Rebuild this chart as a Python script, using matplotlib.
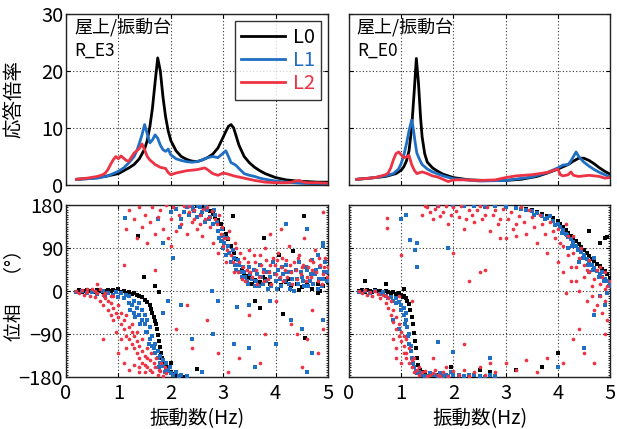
import matplotlib
matplotlib.use("Agg")
import matplotlib.pyplot as plt
from matplotlib.ticker import MultipleLocator
import numpy as np

FAM = ['Noto Sans CJK JP', 'DejaVu Sans']
plt.rcParams['font.family'] = FAM

C0, C1, C2 = '#000000', '#1f6fc4', '#ee3344'
labels = ['L0', 'L1', 'L2']
xticks = [0, 1, 2, 3, 4, 5]
amp_ticks = [0, 10, 20, 30]
ph_ticks = [-180, -90, 0, 90, 180]

# ---- amplification ratio, R_E3 ----
e3_f0 = [0.2,0.4,0.6,0.8,1.0,1.1,1.2,1.3,1.4,1.5,1.55,1.6,1.65,1.7,1.75,1.8,1.85,1.9,1.95,2.0,2.1,2.2,2.3,2.4,2.5,2.6,2.7,2.8,2.9,3.0,3.05,3.1,3.15,3.2,3.25,3.3,3.4,3.5,3.6,3.7,3.8,4.0,4.2,4.4,4.6,4.8,5.0]
e3_a0 = [1.0,1.1,1.3,1.6,2.0,2.5,3.0,3.6,4.6,6.3,7.8,10.2,13.5,18.0,22.3,20.0,15.5,12.0,9.5,7.8,6.0,5.0,4.5,4.2,4.1,4.4,4.8,5.4,6.5,8.4,9.4,10.3,10.6,10.0,8.5,7.0,5.0,3.9,3.1,2.5,2.0,1.3,0.9,0.7,0.6,0.5,0.5]
e3_f1 = [0.2,0.4,0.6,0.8,1.0,1.1,1.2,1.3,1.35,1.4,1.45,1.5,1.55,1.6,1.65,1.7,1.75,1.8,1.85,1.9,1.95,2.0,2.1,2.2,2.3,2.4,2.5,2.6,2.7,2.8,2.9,2.95,3.0,3.05,3.1,3.15,3.2,3.25,3.3,3.4,3.5,3.6,3.7,3.8,4.0,4.2,4.5,4.8,5.0]
e3_a1 = [1.0,1.1,1.2,1.6,2.4,3.0,3.9,5.0,6.0,7.3,8.8,10.6,9.0,7.4,7.9,8.8,8.2,7.0,6.2,5.9,6.3,5.3,4.6,4.3,4.1,4.0,4.1,4.4,4.8,5.0,4.8,5.2,5.6,6.0,5.0,3.9,3.7,3.4,2.9,2.0,1.7,1.5,1.2,1.0,0.7,0.5,0.3,0.2,0.2]
e3_f2 = [0.2,0.4,0.6,0.7,0.75,0.8,0.85,0.9,0.95,1.0,1.05,1.1,1.15,1.2,1.25,1.3,1.35,1.4,1.45,1.5,1.55,1.6,1.7,1.8,1.9,1.95,2.0,2.1,2.2,2.3,2.4,2.5,2.6,2.65,2.7,2.8,2.9,3.0,3.1,3.2,3.3,3.4,3.6,3.8,4.0,4.2,4.3,4.4,4.45,4.5,4.6,4.8,5.0]
e3_a2 = [1.0,1.2,1.5,1.8,2.1,2.7,3.6,4.4,5.0,4.6,5.1,4.7,4.3,4.2,4.9,5.6,6.0,6.4,7.2,6.2,5.0,4.4,3.6,3.1,2.9,2.2,1.8,2.1,2.3,2.5,2.6,2.7,2.9,3.0,2.7,2.0,1.7,2.1,1.9,1.6,1.4,1.2,0.8,0.5,0.4,0.4,0.5,0.7,0.8,0.6,0.4,0.4,0.3]

# ---- amplification ratio, R_E0 ----
e0_f0 = [0.15,0.4,0.7,0.9,1.0,1.05,1.1,1.15,1.2,1.25,1.29,1.33,1.37,1.4,1.45,1.5,1.6,1.7,1.8,2.0,2.3,2.6,3.0,3.3,3.6,3.8,4.0,4.2,4.3,4.4,4.5,4.6,4.7,4.8,4.9,5.0]
e0_a0 = [1.0,1.2,1.5,2.0,2.6,3.2,4.2,6.0,10.0,16.5,22.2,18.0,12.0,8.5,5.5,4.0,3.0,2.4,1.9,1.3,0.9,0.8,0.8,1.0,1.5,2.1,2.8,3.6,4.2,4.7,4.7,4.3,3.7,3.0,2.4,1.9]
e0_f1 = [0.15,0.4,0.7,0.85,0.95,1.0,1.05,1.1,1.15,1.2,1.23,1.27,1.3,1.35,1.4,1.5,1.6,1.8,2.0,2.5,3.0,3.5,3.8,4.0,4.1,4.2,4.25,4.3,4.35,4.4,4.5,4.6,4.7,4.8,4.9,5.0]
e0_a1 = [1.0,1.2,1.6,2.0,2.8,3.8,5.2,7.2,9.5,11.4,10.0,7.3,5.6,4.5,3.6,2.8,2.3,1.6,1.1,0.7,0.8,1.4,2.2,3.0,3.5,3.6,4.2,5.0,5.8,5.0,4.0,3.3,2.7,2.2,1.8,1.4]
e0_f2 = [0.15,0.5,0.7,0.75,0.8,0.85,0.9,0.95,1.0,1.05,1.1,1.15,1.2,1.25,1.3,1.4,1.5,1.6,1.7,1.8,1.9,2.0,2.2,2.5,2.8,3.0,3.2,3.5,3.8,3.9,4.0,4.05,4.1,4.2,4.25,4.3,4.4,4.6,4.8,4.9,5.0]
e0_a2 = [1.0,1.3,1.8,2.1,3.0,4.4,5.5,5.8,5.3,4.8,4.9,5.2,3.6,2.6,2.0,2.3,2.0,1.6,1.4,1.0,0.6,0.9,0.9,0.8,0.9,1.3,1.6,1.8,2.2,2.5,2.8,1.8,1.6,1.8,2.3,1.7,1.5,1.7,1.5,1.2,1.3]

# ---- phase, R_E3 (freq, deg) ----
e3_p0 = [(0.2,-2),(0.25,2),(0.3,-3),(0.35,0),(0.4,3),(0.45,-1),(0.5,1),(0.55,-2),(0.6,2),(0.65,0),(0.7,-3),(0.75,1),(0.8,3),(0.85,-1),(0.9,2),(0.95,0),(1.0,5),(1.05,-2),(1.1,0),(1.15,-4),(1.2,-3),(1.25,-6),(1.3,-5),(1.35,-8),(1.4,-10),(1.45,-12),(1.5,-18),(1.55,-22),(1.6,-30),(1.62,-38),(1.65,-45),(1.68,-55),(1.7,-62),(1.72,-70),(1.74,-80),(1.76,-92),(1.78,-105),(1.8,-118),(1.82,-130),(1.84,-140),(1.86,-150),(1.9,-158),(1.95,-165),(2.0,-170),(2.05,-174),(2.1,-176),(2.15,-178),(2.2,-177),(2.25,-179),
         (2.4,179),(2.5,178),(2.6,176),(2.65,173),(2.7,170),(2.75,167),(2.8,162),(2.85,155),(2.9,148),(2.95,140),(3.0,130),(3.05,120),(3.1,108),(3.15,95),(3.2,80),(3.25,68),(3.3,55),(3.35,45),(3.4,38),(3.45,32),(3.5,28),(3.6,22),(3.7,18),(3.8,25),(3.9,15),(4.0,20),(4.1,12),(4.2,18),(4.3,10),(4.4,15),(4.5,8),(4.6,12),(4.7,5),(4.8,15),(4.9,10),(5.0,18),(3.55,15),(3.75,30),(4.05,5),(4.25,25),(4.45,3),(4.65,20),(4.85,0),(4.95,25),
         (1.37,115),(1.48,30),(1.78,-2),(2.5,-163),(3.18,156),(3.77,111),(4.06,76),(4.34,83),(4.55,156),(4.15,-48),(4.57,-99),(3.7,-35),(1.7,10),(2.0,-150),(3.6,-20),(4.8,-5)]
e3_p1 = [(0.2,-3),(0.3,0),(0.4,-5),(0.5,-2),(0.6,-6),(0.7,0),(0.75,-10),(0.8,-4),(0.9,-8),(0.95,-2),(1.0,-12),(1.05,-5),(1.1,-15),(1.15,-8),(1.2,-25),(1.2,-10),(1.25,-30),(1.3,-20),(1.3,-45),(1.35,-35),(1.4,-50),(1.4,-25),(1.45,-60),(1.45,-40),(1.5,-70),(1.5,-50),(1.55,-85),(1.55,-60),(1.6,-100),(1.6,-75),(1.65,-115),(1.65,-95),(1.7,-130),(1.7,-110),(1.75,-140),(1.75,-125),(1.8,-150),(1.8,-135),(1.85,-158),(1.85,-145),(1.9,-165),(1.9,-150),(1.95,-168),(2.0,-172),(2.05,-175),(2.1,-170),(2.15,-178),(2.2,-175),(2.3,-178),
         (1.22,-40),(1.32,-55),(1.42,-70),(1.52,-85),(1.58,-110),(1.68,-120),(1.78,-160),(1.88,-170),(1.98,-160),
         (1.13,152),(1.86,100),(2.18,135),(2.0,165),(2.1,172),(2.2,150),(2.3,175),(2.35,160),(2.4,178),(2.45,168),(2.5,155),(2.55,175),(2.6,165),(2.65,145),(2.7,170),(2.75,155),(2.8,140),(2.85,160),(2.9,125),(2.95,105),(3.0,115),(3.0,90),(3.05,75),(3.1,95),(3.15,60),(3.2,70),(3.25,45),(3.3,55),(3.35,30),(3.4,40),(3.45,20),(3.5,50),(3.55,25),(3.6,10),(3.65,35),(3.7,55),(3.75,15),(3.8,40),(3.85,5),(3.9,30),(3.95,60),(4.0,20),(4.05,45),(4.1,10),(4.15,35),(4.2,55),(4.25,15),(4.3,40),(4.35,0),(4.4,25),(4.45,60),(4.5,30),(4.55,10),(4.6,45),(4.65,20),(4.7,65),(4.75,35),(4.8,5),(4.85,50),(4.9,25),(4.95,60),(5.0,40),(4.9,95),(4.8,75),
         (2.25,165),(2.42,172),(2.52,178),(2.58,160),(2.68,178),(2.72,150),(2.82,170),(2.88,145),(2.92,110),(2.98,130),(3.02,100),(3.08,110),(3.12,80),(3.18,85),(3.22,55),(3.28,65),(3.32,40),(3.38,50),(3.42,30),(3.48,15),(3.52,35),(3.58,45),(3.62,20),(3.68,10),(3.72,30),(3.78,45),(3.82,20),(3.88,40),(3.92,10),(3.98,35),(4.02,5),(4.08,25),(4.12,50),(4.18,20),(4.22,40),(4.28,5),(4.32,25),(4.38,45),(4.42,15),(4.48,40),(4.52,20),(4.58,50),(4.62,10),(4.68,35),(4.72,15),(4.78,45),(4.82,25),(4.88,10),(4.92,40),(4.98,20),
         (2.78,0),(2.9,-20),(3.26,-33),(3.5,-30),(3.9,-20),(4.0,-110),(4.3,-60),(4.5,-80),(4.6,-170),(4.9,-60),(4.2,140),(4.6,130),(4.9,100),(2.2,-30),(2.4,-100),(2.8,-90),(3.2,-110),(3.5,-120),(2.6,-170),(3.6,-160),(4.7,-130),(1.85,-45),(1.95,-20),(2.05,70),(1.75,150)]
e3_p2 = [(0.2,0),(0.25,-5),(0.3,3),(0.35,-8),(0.4,-2),(0.45,-10),(0.5,5),(0.55,-12),(0.6,-5),(0.6,15),(0.65,-20),(0.7,-8),(0.7,-30),(0.75,-15),(0.8,-40),(0.8,-20),(0.85,-50),(0.85,-25),(0.9,-35),(0.9,-60),(0.95,-45),(1.0,-55),(1.0,-30),(1.05,-70),(1.05,-45),(1.1,-80),(1.1,-60),(1.15,-95),(1.15,-50),(1.2,-100),(1.2,-75),(1.25,-110),(1.25,-85),(1.3,-120),(1.3,-95),(1.35,-130),(1.35,-105),(1.4,-140),(1.4,-115),(1.45,-150),(1.45,-125),(1.5,-155),(1.5,-135),(1.55,-160),(1.55,-140),(1.6,-165),(1.6,-145),(1.65,-170),(1.7,-160),(1.75,-175),(1.8,-168),(1.85,-178),(1.9,-172),(1.1,-150),(1.2,-165),(1.3,-155),(1.4,-170),(1.0,-130),(0.7,-100),(0.95,-85),
         (1.62,-130),(1.68,-150),(1.72,-140),(1.78,-165),(1.82,-150),(1.88,-160),(1.55,-120),(1.45,-100),(1.35,-85),(1.25,-70),(1.15,-120),(1.05,-100),(1.4,-160),(1.5,-170),(0.9,-10),(0.65,5),(0.55,0),(0.75,-5),(0.85,-10),(0.4,5),
         (1.15,130),(1.2,170),(1.3,150),(1.35,110),(1.4,175),(1.45,135),(1.5,160),(1.55,100),(1.6,145),(1.65,175),(1.7,120),(1.75,155),(1.8,170),(1.85,130),(1.9,180),(1.95,110),(2.0,150),(2.05,175),(2.1,125),(2.15,160),(2.2,140),(2.25,178),(2.3,120),(2.35,165),(2.4,145),(2.45,170),(2.5,130),(2.55,160),(2.6,115),(2.65,150),(2.7,175),(2.75,135),(2.8,100),(2.85,150),(2.9,80),(2.95,120),(3.0,95),(3.05,60),(3.1,110),(3.15,75),(3.2,40),(3.25,90),(3.3,60),(3.35,25),(3.4,70),(3.45,45),(3.5,85),(3.55,30),(3.6,60),(3.65,15),(3.7,75),(3.75,40),(3.8,90),(3.85,25),(3.9,55),(3.95,70),(4.0,35),(4.05,80),(4.1,50),(4.15,20),(4.2,65),(4.25,95),(4.3,40),(4.35,60),(4.4,25),(4.45,75),(4.5,50),(4.55,110),(4.6,30),(4.65,65),(4.7,45),(4.75,85),(4.8,20),(4.85,55),(4.9,35),(4.95,70),(5.0,50),(4.9,165),(4.1,130),(3.9,120),(1.1,55),(1.7,45),(2.0,95),
         (2.35,178),(2.45,150),(2.55,140),(2.62,172),(2.72,155),(2.78,168),(2.88,140),(2.92,160),(2.98,135),(3.02,110),(3.08,85),(3.12,125),(3.18,60),(3.22,100),(3.28,40),(3.32,80),(3.38,50),(3.42,20),(3.48,60),(3.52,40),(3.58,75),(3.62,45),(3.68,30),(3.72,55),(3.78,20),(3.82,65),(3.88,40),(3.92,15),(3.98,55),(4.02,65),(4.08,30),(4.12,70),(4.18,45),(4.22,30),(4.28,55),(4.32,15),(4.38,45),(4.42,70),(4.48,35),(4.52,55),(4.58,20),(4.62,50),(4.68,30),(4.72,60),(4.78,40),(4.82,70),(4.88,15),(4.92,50),(4.98,30),
         (2.3,-30),(2.4,-120),(3.1,-170),(3.5,-50),(3.8,-90),(4.3,-70),(4.4,-90),(4.7,-40),(4.8,-130),(4.5,-160),(2.7,-60),(3.3,-140),(4.0,-20),(4.6,-100),(2.1,-80),(2.9,-130),(3.7,-150),(4.9,-80)]

# ---- phase, R_E0 (freq, deg) ----
e0_p0 = [(0.2,0),(0.25,2),(0.3,-2),(0.35,3),(0.4,0),(0.45,-3),(0.5,2),(0.55,-1),(0.6,1),(0.65,-4),(0.7,0),(0.75,-2),(0.8,-5),(0.85,-3),(0.9,-6),(0.95,-4),(1.0,-8),(1.03,-12),(1.06,-10),(1.1,-15),(1.12,-20),(1.15,-28),(1.17,-40),(1.2,-55),(1.22,-70),(1.24,-88),(1.26,-105),(1.28,-120),(1.3,-140),(1.33,-155),(1.36,-165),(1.4,-170),(1.45,-175),(1.5,-177),(1.6,-178),(1.7,-176),(1.8,-179),(1.9,-178),(2.0,-177),(2.2,-179),(2.4,-178),(2.6,-179),(2.8,-178),(0.3,20),(0.7,15),(1.05,5),
         (2.0,179),(2.2,178),(2.4,179),(2.6,178),(2.8,177),(3.0,178),(3.2,176),(3.4,172),(3.5,170),(3.6,166),(3.7,162),(3.8,157),(3.9,152),(4.0,146),(4.05,140),(4.1,134),(4.15,128),(4.2,122),(4.25,116),(4.3,110),(4.35,104),(4.4,98),(4.45,92),(4.5,86),(4.55,80),(4.6,74),(4.65,68),(4.7,62),(4.75,56),(4.8,52),(4.85,46),(4.9,42),(4.95,35),(5.0,28),(4.6,125),(4.8,100),(4.9,110),(4.95,112),
         (1.95,-160),(2.7,-170),(3.2,-165),(4.0,-130),(3.7,-160),(2.5,-165)]
e0_p1 = [(0.2,-2),(0.3,0),(0.4,-4),(0.5,-1),(0.6,-6),(0.65,-3),(0.7,-10),(0.75,-15),(0.8,-12),(0.85,-20),(0.9,-15),(0.9,-25),(0.95,-22),(1.0,-30),(1.0,-40),(1.05,-50),(1.05,-35),(1.1,-60),(1.1,-45),(1.12,-75),(1.15,-90),(1.15,-110),(1.18,-125),(1.2,-140),(1.22,-150),(1.25,-160),(1.28,-168),(1.3,-172),(1.4,-175),(1.5,-178),(1.6,-176),(1.7,-179),(1.8,-177),(1.9,-178),(2.0,-175),(2.2,-178),(2.4,-176),(2.6,-179),(2.8,-177),(0.85,-60),(0.95,-80),
         (1.35,-170),(1.45,-178),(1.55,-172),(1.65,-176),(1.75,-172),(1.85,-175),(1.95,-170),(2.1,-176),(2.3,-175),(2.5,-178),(2.7,-176),(1.08,-70),(1.13,-95),(1.18,-115),
         (1.7,178),(2.0,179),(2.2,177),(2.4,178),(2.6,176),(2.8,178),(3.0,175),(3.2,174),(3.4,170),(3.5,167),(3.6,163),(3.7,158),(3.8,152),(3.9,146),(4.0,140),(4.05,133),(4.1,127),(4.15,120),(4.2,114),(4.25,108),(4.3,102),(4.35,95),(4.4,88),(4.45,82),(4.5,75),(4.55,68),(4.6,62),(4.65,55),(4.7,48),(4.75,42),(4.8,36),(4.85,30),(4.9,25),(4.95,20),(5.0,15),(4.2,90),(4.4,60),(4.6,40),(4.8,-10),(4.9,-30),(4.7,-50),
         (3.3,172),(3.55,160),(3.75,150),(3.85,157),(3.95,138),(4.08,122),(4.18,118),(4.28,95),(4.38,85),(4.48,70),(4.58,55),(4.68,45),(4.78,30),(4.88,20),(4.98,10),(4.7,70),(4.85,40),(4.95,-5),
         (1.17,107),(1.26,86),(1.3,100),(1.3,51),(1.9,90),(1.71,-106),(2.0,-127),(1.0,150),(1.1,160),(4.0,-160),(2.7,-140),(4.5,-120)]
e0_p2 = [(0.2,0),(0.25,-5),(0.3,2),(0.35,-8),(0.4,-3),(0.45,-10),(0.5,0),(0.55,-6),(0.6,-15),(0.65,-8),(0.7,-25),(0.7,-10),(0.75,-35),(0.75,-15),(0.8,-50),(0.8,-20),(0.85,-65),(0.85,-40),(0.9,-80),(0.9,-55),(0.95,-95),(0.95,-70),(1.0,-105),(1.0,-85),(1.05,-115),(1.05,-95),(1.1,-130),(1.1,-140),(1.15,-150),(1.15,-120),(1.2,-160),(1.2,-145),(1.25,-170),(1.3,-165),(1.35,-175),(1.4,-170),(1.5,-178),(1.6,-172),(1.7,-176),(1.8,-170),(1.9,-178),(2.0,-168),(2.1,-175),(2.2,-165),(2.3,-178),(2.4,-170),(2.5,-160),(2.6,-175),(2.7,-150),(2.8,-170),(3.0,-150),(3.2,-165),(3.4,-145),(3.6,-170),(3.8,-140),(0.95,-10),(1.2,-20),
         (1.25,-140),(1.35,-160),(1.45,-168),(1.55,-175),(1.65,-165),(1.75,-178),(1.85,-160),(0.85,-100),(0.9,-120),(1.0,-150),(1.05,-130),
         (0.72,131),(0.72,152),(1.0,75),(1.4,160),(1.5,175),(1.6,150),(1.7,178),(1.8,165),(1.9,140),(2.0,175),(2.1,155),(2.2,130),(2.3,170),(2.4,145),(2.5,178),(2.6,160),(2.7,125),(2.8,170),(2.9,150),(3.0,110),(3.1,165),(3.2,140),(3.3,175),(3.4,120),(3.5,155),(3.6,100),(3.7,140),(3.8,80),(3.9,125),(4.0,60),(4.05,100),(4.1,40),(4.15,140),(4.2,75),(4.25,20),(4.3,115),(4.35,50),(4.4,0),(4.45,90),(4.5,30),(4.55,-20),(4.6,65),(4.65,10),(4.7,-40),(4.75,45),(4.8,-10),(4.85,30),(4.9,5),(4.95,-60),(5.0,20),(2.0,80),(2.3,20),(2.5,40),(2.6,45),(2.9,110),(3.2,115),(4.8,50),(4.9,40),
         (1.45,178),(1.55,165),(1.65,172),(1.75,158),(1.85,178),(1.95,160),(2.05,168),(2.15,178),(2.25,150),(2.35,160),(2.45,170),(2.55,150),(2.65,175),(2.75,160),(2.85,140),(2.95,172),(3.05,150),(3.15,130),(3.25,158),(3.35,145),(3.45,170),(3.55,135),(3.65,160),(3.75,120),(3.85,145),(3.95,110),(4.0,130),(4.1,95),(4.2,115),(4.3,80),(4.4,70),(4.5,55),(4.6,40),(4.7,25),(4.8,15),(4.9,-20),(4.95,10),(4.55,45),(4.65,-10),(4.75,-30),(4.85,-45),(4.25,50),(4.35,20),(4.15,-5),
         (1.6,-140),(2.2,-110),(4.3,-100),(4.5,-130),(4.1,-150),(4.7,-150),(4.9,-90),(4.4,-80),(0.9,-140),(1.1,-100)]

fig = plt.figure(figsize=(6.17, 4.29), dpi=100)
W, H = 617, 429
def box(l, t, r, b):
    return [l / W, 1 - b / H, (r - l) / W, (b - t) / H]

ax_tl = fig.add_axes(box(66, 14, 328, 185))
ax_tr = fig.add_axes(box(349, 14, 610, 185))
ax_bl = fig.add_axes(box(66, 205, 328, 377))
ax_br = fig.add_axes(box(349, 205, 610, 377))

def style(ax):
    ax.set_xlim(0, 5)
    ax.set_xticks(xticks)
    ax.grid(True, color='#333333', linestyle=(0, (1, 2)), linewidth=0.8)
    ax.set_axisbelow(True)
    ax.tick_params(direction='in', length=3, top=True, right=True, labelsize=14.5)
    ax.tick_params(axis='y', pad=2)
    ax.tick_params(axis='x', pad=4)
    for s in ax.spines.values():
        s.set_linewidth(1.0)
        s.set_color('#222222')

for ax, curves, name in [(ax_tl, [(e3_f0, e3_a0), (e3_f1, e3_a1), (e3_f2, e3_a2)], 'R_E3'),
                         (ax_tr, [(e0_f0, e0_a0), (e0_f1, e0_a1), (e0_f2, e0_a2)], 'R_E0')]:
    style(ax)
    for (f, a), c, lab in zip(curves, [C0, C1, C2], labels):
        ax.plot(f, a, color=c, lw=2.0, label=lab)
    ax.set_ylim(0, 30)
    ax.set_yticks(amp_ticks)
    ax.tick_params(labelbottom=False)
    ax.text(0.03, 0.975, '屋上/振動台', transform=ax.transAxes, ha='left', va='top', fontsize=13)
    ax.text(0.03, 0.835, name, transform=ax.transAxes, ha='left', va='top', fontsize=12.5)

ax_tr.tick_params(labelleft=False)
leg = ax_tl.legend(loc='upper right', fontsize=14.5, frameon=True, fancybox=False,
                   edgecolor='black', handlelength=2.2, labelspacing=0.1,
                   borderpad=0.3, borderaxespad=0.35, handletextpad=0.4)
leg.get_frame().set_linewidth(1.0)
for t, c in zip(leg.get_texts(), [C0, C1, C2]):
    t.set_color(c)

for ax, sets in [(ax_bl, [e3_p0, e3_p1, e3_p2]), (ax_br, [e0_p0, e0_p1, e0_p2])]:
    style(ax)
    for pts, c, m, s in zip(sets, [C0, C1, C2], ['s', 's', 'o'], [7, 8, 7]):
        arr = np.array(pts)
        ax.scatter(arr[:, 0], arr[:, 1], s=s, marker=m, color=c, linewidths=0, zorder=3)
    ax.set_ylim(-180, 180)
    ax.set_yticks(ph_ticks)
    ax.set_yticklabels(['\u2212180', '\u221290', '0', '90', '180'])
    ax.yaxis.set_minor_locator(MultipleLocator(5))
    ax.tick_params(axis='y', which='minor', direction='in', length=1.5, left=True, right=True)
    ax.set_xlabel('振動数(Hz)', fontsize=14, labelpad=3)

ax_br.tick_params(labelleft=False)

ax_tl.set_ylabel('応答倍率', fontsize=14)
ax_tl.yaxis.set_label_coords(-0.16, 0.5)
ax_bl.set_ylabel('位相　（°）', fontsize=13.5)
ax_bl.yaxis.set_label_coords(-0.16, 0.5)

fig.savefig('out.png', dpi=100)
